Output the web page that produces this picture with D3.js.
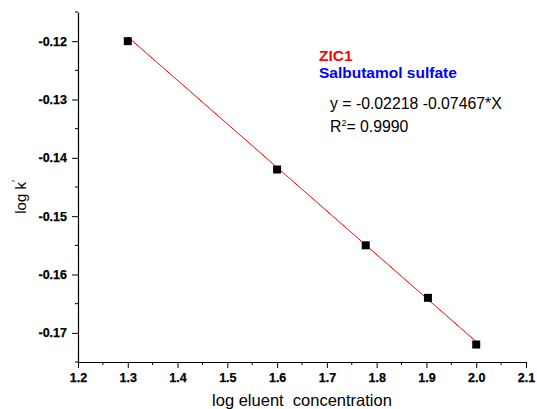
<!DOCTYPE html>
<html>
<head>
<meta charset="utf-8">
<script src="https://cdn.jsdelivr.net/npm/d3@7"></script>
<style>
	body { margin: 0; background: #fff; }
	svg { display: block; font-family: 'Liberation Sans', Arial, sans-serif; }
</style>
</head>
<body>
<div id="chart"></div>
<script>
// data
const logConc = [1.3, 1.6, 1.778, 1.903, 2.0];
const logK = [-0.12, -0.142, -0.155, -0.164, -0.172];
const fitIntercept = -0.02218;
const fitSlope = -0.07467;
const xTicks = [1.2, 1.3, 1.4, 1.5, 1.6, 1.7, 1.8, 1.9, 2.0, 2.1];
const yTicks = [-0.12, -0.13, -0.14, -0.15, -0.16, -0.17];
const labels = ['ZIC1', 'Salbutamol sulfate'];

const width = 537, height = 409;
const margin = { top: 12, right: 11, bottom: 47, left: 78 };

const $svg = d3.select('#chart').append('svg')
	.attr('width', width)
	.attr('height', height);

const x = d3.scaleLinear().domain([1.2, 2.1]).range([margin.left, width - margin.right]);
const y = d3.scaleLinear().domain([-0.175, -0.115]).range([height - margin.bottom, margin.top]);

// minor ticks
const xMinor = d3.range(1.25, 2.1, 0.1);
const yMinor = d3.range(-0.175, -0.114, 0.01);

const $xAxis = $svg.append('g')
	.attr('transform', `translate(0,${y.range()[0]})`);
$xAxis.call(d3.axisBottom(x).tickValues(xTicks).tickFormat(d => d.toFixed(1)).tickSize(6).tickSizeOuter(0));
$xAxis.append('g').selectAll('line')
	.data(xMinor).enter().append('line')
	.attr('x1', d => x(d)).attr('x2', d => x(d))
	.attr('y1', 0).attr('y2', 3)
	.attr('stroke', '#000');

const $yAxis = $svg.append('g')
	.attr('transform', `translate(${x.range()[0]},0)`);
// plain hyphen, not d3's unicode minus
$yAxis.call(d3.axisLeft(y).tickValues(yTicks).tickFormat(d => d.toFixed(2)).tickSize(6).tickSizeOuter(0));
$yAxis.append('g').selectAll('line')
	.data(yMinor).enter().append('line')
	.attr('y1', d => y(d)).attr('y2', d => y(d))
	.attr('x1', 0).attr('x2', -3)
	.attr('stroke', '#000');

$svg.selectAll('.domain').attr('stroke', '#000').attr('stroke-width', 1.2);
$svg.selectAll('.tick line').attr('stroke', '#000');
$svg.selectAll('.tick text')
	.style('font-family', "'Liberation Sans', Arial, sans-serif")
	.style('font-size', '12.5px')
	.style('font-weight', '700')
	.style('fill', '#000')
	.style('stroke', '#000')
	.style('stroke-width', '0.25px');
$xAxis.selectAll('.tick text').attr('dy', '0.9em');
$yAxis.selectAll('.tick text').attr('x', -11);

// fit line
$svg.append('line')
	.attr('x1', x(logConc[0]))
	.attr('y1', y(fitIntercept + fitSlope * logConc[0]))
	.attr('x2', x(logConc[logConc.length - 1]))
	.attr('y2', y(fitIntercept + fitSlope * logConc[logConc.length - 1]))
	.attr('stroke', '#ff0000')
	.attr('stroke-width', 1);

// points
const s = 8;
$svg.append('g').selectAll('rect')
	.data(logConc).enter().append('rect')
	.attr('x', (d) => x(d) - s / 2)
	.attr('y', (d, i) => y(logK[i]) - s / 2)
	.attr('width', s)
	.attr('height', s)
	.attr('fill', '#000');

// axis titles
$svg.append('text')
	.attr('x', (x.range()[0] + x.range()[1]) / 2)
	.attr('y', 406)
	.attr('text-anchor', 'middle')
	.attr('font-size', 16.5)
	.text('log eluent\u00a0\u00a0concentration');

const $yTitle = $svg.append('text')
	.attr('transform', 'translate(26,197) rotate(-90)')
	.attr('text-anchor', 'middle')
	.attr('font-size', 15);
$yTitle.append('tspan').text('log k');
$yTitle.append('tspan').attr('dy', -6).attr('font-size', 10).text('\u2032');

// annotations
$svg.append('text')
	.attr('x', 319).attr('y', 61)
	.attr('font-size', 15.5).attr('font-weight', 'bold')
	.attr('fill', '#ff0000')
	.text(labels[0]);
$svg.append('text')
	.attr('x', 319).attr('y', 78)
	.attr('font-size', 15.5).attr('font-weight', 'bold')
	.attr('fill', '#0000ff')
	.text(labels[1]);
$svg.append('text')
	.attr('x', 330).attr('y', 109)
	.attr('font-size', 15.8)
	.attr('fill', '#000')
	.text(`y = ${fitIntercept} ${fitSlope}*X`);
const $r2 = $svg.append('text')
	.attr('x', 330).attr('y', 132)
	.attr('font-size', 15.8)
	.attr('fill', '#000');
$r2.append('tspan').text('R');
$r2.append('tspan').attr('dy', -6).attr('font-size', 9).text('2');
$r2.append('tspan').attr('dy', 6).text('= 0.9990');
</script>
</body>
</html>
